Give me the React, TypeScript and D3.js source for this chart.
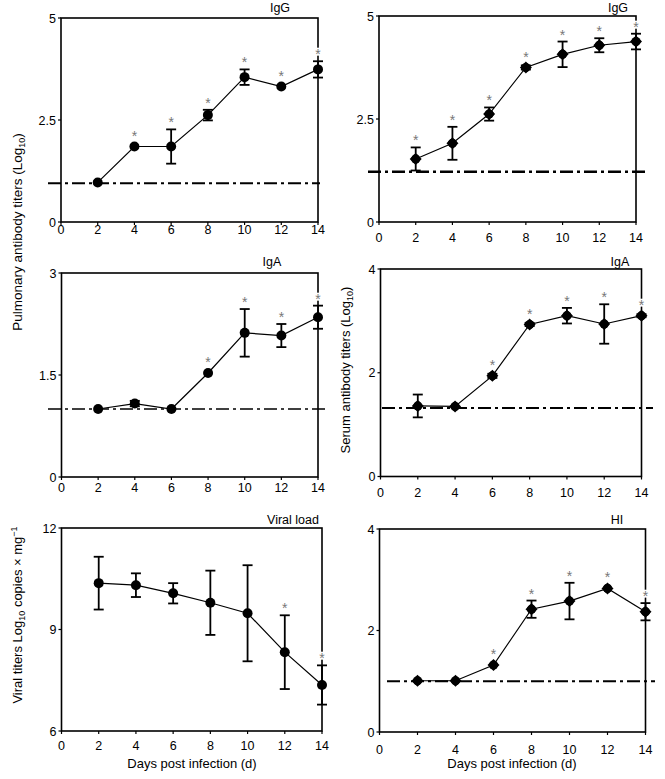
import React from "react";
import * as d3 from "d3";

// ---- Data ----
const days = [2, 4, 6, 8, 10, 12, 14];
const xTicks = [0, 2, 4, 6, 8, 10, 12, 14];

const pulmIgG = [0.97, 1.85, 1.85, 2.62, 3.55, 3.32, 3.74];
const pulmIgGErr = [0, 0, 0.42, 0.13, 0.19, 0, 0.2];
const pulmIgGStar = [false, true, true, true, true, true, true];
const pulmIgGCut = 0.95;
const pulmIgGTicks = [0, 2.5, 5];

const serIgG = [1.53, 1.91, 2.62, 3.75, 4.07, 4.29, 4.38];
const serIgGErr = [0.28, 0.4, 0.16, 0.05, 0.31, 0.17, 0.19];
const serIgGStar = [true, true, true, true, true, true, true];
const serIgGCut = 1.22;
const serIgGTicks = [0, 2.5, 5];

const pulmIgA = [1.0, 1.08, 1.0, 1.53, 2.12, 2.08, 2.35];
const pulmIgAErr = [0, 0.04, 0, 0, 0.35, 0.17, 0.17];
const pulmIgAStar = [false, false, false, true, true, true, true];
const pulmIgACut = 1.0;
const pulmIgATicks = [0, 1.5, 3];

const serIgA = [1.36, 1.35, 1.94, 2.93, 3.1, 2.94, 3.1];
const serIgAErr = [0.22, 0, 0.04, 0.03, 0.15, 0.38, 0.03];
const serIgAStar = [false, false, true, true, true, true, true];
const serIgACut = 1.32;
const serIgATicks = [0, 2, 4];

const viral = [10.37, 10.31, 10.07, 9.79, 9.48, 8.33, 7.36];
const viralErr = [0.78, 0.35, 0.3, 0.95, 1.42, 1.09, 0.58];
const viralStar = [false, false, false, false, false, true, true];
const viralTicks = [6, 9, 12];

const hi = [1.01, 1.01, 1.32, 2.42, 2.58, 2.83, 2.37];
const hiErr = [0, 0, 0, 0.17, 0.36, 0, 0.17];
const hiStar = [false, false, true, true, true, true, true];
const hiCut = 1.0;
const hiTicks = [0, 2, 4];

const FONT = "'Liberation Sans', Arial, Helvetica, sans-serif";

type PanelProps = {
  left: number; right: number; top: number; bottom: number;
  domain: [number, number];
  yTicks: number[];
  values: number[]; errs: number[]; stars: boolean[];
  cutoff?: number; cutX?: [number, number]; cutWidth?: number;
  title: string; titleX: number; titleY: number;
  marker: "circle" | "diamond";
  xLabOff: number;
};

function Panel(p: PanelProps) {
  const x = d3.scaleLinear().domain([0, 14]).range([p.left, p.right]);
  const y = d3.scaleLinear().domain(p.domain).range([p.bottom, p.top]);
  const line = d3.line<number>().x((_, i) => x(days[i])).y((v) => y(v));
  return (
    <g>
      {p.cutoff !== undefined && (
        <line x1={p.cutX![0]} x2={p.cutX![1]} y1={y(p.cutoff)} y2={y(p.cutoff)}
          stroke="#000" strokeWidth={p.cutWidth ?? 2} strokeDasharray="13,4,3,4" />
      )}
      <rect x={p.left} y={p.top} width={p.right - p.left} height={p.bottom - p.top}
        fill="none" stroke="#000" strokeWidth={1.6} />
      {p.yTicks.map((t) => (
        <g key={"y" + t}>
          <line x1={p.left - 3} x2={p.left} y1={y(t)} y2={y(t)} stroke="#000" strokeWidth={1.2} />
          <text x={p.left - 5} y={y(t)} dy="0.36em" textAnchor="end" fontSize={12.5} fontFamily={FONT}>{t}</text>
        </g>
      ))}
      {xTicks.map((t) => (
        <g key={"x" + t}>
          <line x1={x(t)} x2={x(t)} y1={p.bottom} y2={p.bottom + 3} stroke="#000" strokeWidth={1.2} />
          <text x={x(t)} y={p.bottom + p.xLabOff} textAnchor="middle" fontSize={12.5} fontFamily={FONT}>{t}</text>
        </g>
      ))}
      <text x={p.titleX} y={p.titleY} textAnchor="middle" fontSize={12.5} fontFamily={FONT}>{p.title}</text>
      <path d={line(p.values) || ""} fill="none" stroke="#000" strokeWidth={1.2} />
      {p.values.map((v, i) => {
        const cx = x(days[i]);
        const e = p.errs[i];
        return (
          <g key={"e" + i}>
            {e > 0 && (
              <g stroke="#000" strokeWidth={1.8}>
                <line x1={cx} x2={cx} y1={y(v + e)} y2={y(v - e)} />
                <line x1={cx - 5} x2={cx + 5} y1={y(v + e)} y2={y(v + e)} />
                <line x1={cx - 5} x2={cx + 5} y1={y(v - e)} y2={y(v - e)} />
              </g>
            )}
          </g>
        );
      })}
      {p.values.map((v, i) => {
        const cx = x(days[i]);
        const cy = y(v);
        return p.marker === "circle" ? (
          <circle key={"m" + i} cx={cx} cy={cy} r={5} fill="#000" />
        ) : (
          <g key={"m" + i}>
            <circle cx={cx} cy={cy} r={4.6} fill="#000" />
            <path d={`M${cx},${cy - 6}L${cx + 6},${cy}L${cx},${cy + 6}L${cx - 6},${cy}Z`} fill="#000" />
          </g>
        );
      })}
      {p.values.map((v, i) => {
        if (!p.stars[i]) return null;
        const cx = x(days[i]);
        const topY = Math.min(y(v + p.errs[i]), y(v) - 4);
        return (
          <text key={"s" + i} x={cx} y={topY - 10 + 8} textAnchor="middle" fontSize={14}
            fontFamily={FONT} fill="#777" stroke="#fff" strokeWidth={2.5}
            style={{ paintOrder: "stroke" }}>*</text>
        );
      })}
    </g>
  );
}

export default function App() {
  return (
    <svg width={665} height={779} style={{ position: "absolute", left: 0, top: 0, background: "#fff" }}>
      <rect x={0} y={0} width={665} height={779} fill="#fff" />
      <Panel left={61} right={318} top={18} bottom={222} domain={[0, 5]} yTicks={pulmIgGTicks}
        values={pulmIgG} errs={pulmIgGErr} stars={pulmIgGStar}
        cutoff={pulmIgGCut} cutX={[48, 320]} cutWidth={2}
        title="IgG" titleX={280} titleY={12} marker="circle" xLabOff={12} />
      <Panel left={379} right={636} top={16} bottom={222} domain={[0, 5]} yTicks={serIgGTicks}
        values={serIgG} errs={serIgGErr} stars={serIgGStar}
        cutoff={serIgGCut} cutX={[368, 646]} cutWidth={2.4}
        title="IgG" titleX={618} titleY={12} marker="diamond" xLabOff={20} />
      <Panel left={61.5} right={318} top={273} bottom={477} domain={[0, 3]} yTicks={pulmIgATicks}
        values={pulmIgA} errs={pulmIgAErr} stars={pulmIgAStar}
        cutoff={pulmIgACut} cutX={[48, 327]} cutWidth={1.3}
        title="IgA" titleX={272} titleY={266} marker="circle" xLabOff={15} />
      <Panel left={380.5} right={641.5} top={269} bottom={476.5} domain={[0, 4]} yTicks={serIgATicks}
        values={serIgA} errs={serIgAErr} stars={serIgAStar}
        cutoff={serIgACut} cutX={[382, 653]} cutWidth={2}
        title="IgA" titleX={620} titleY={266} marker="diamond" xLabOff={20} />
      <Panel left={61.5} right={322} top={528} bottom={731} domain={[6, 12]} yTicks={viralTicks}
        values={viral} errs={viralErr} stars={viralStar}
        title="Viral load" titleX={293} titleY={524} marker="circle" xLabOff={19} />
      <Panel left={379.5} right={645.5} top={529} bottom={732} domain={[0, 4]} yTicks={hiTicks}
        values={hi} errs={hiErr} stars={hiStar}
        cutoff={hiCut} cutX={[387, 655]} cutWidth={2}
        title="HI" titleX={617} titleY={524} marker="diamond" xLabOff={22} />

      <text transform="translate(22,232) rotate(-90)" textAnchor="middle" fontSize={13.5} fontFamily={FONT}>
        Pulmonary antibody titers (Log<tspan fontSize={9} dy={3}>10</tspan><tspan dy={-3}>)</tspan>
      </text>
      <text transform="translate(350,370) rotate(-90)" textAnchor="middle" fontSize={13} fontFamily={FONT}>
        Serum antibody titers (Log<tspan fontSize={9} dy={3}>10</tspan><tspan dy={-3}>)</tspan>
      </text>
      <text transform="translate(22,615) rotate(-90)" textAnchor="middle" fontSize={13} fontFamily={FONT}>
        Viral titers Log<tspan fontSize={9} dy={3}>10</tspan><tspan dy={-3}> copies × mg</tspan><tspan fontSize={9} dy={-5}>−1</tspan>
      </text>
      <text x={192} y={768} textAnchor="middle" fontSize={13} fontFamily={FONT}>Days post infection (d)</text>
      <text x={512} y={768} textAnchor="middle" fontSize={13} fontFamily={FONT}>Days post infection (d)</text>
    </svg>
  );
}
